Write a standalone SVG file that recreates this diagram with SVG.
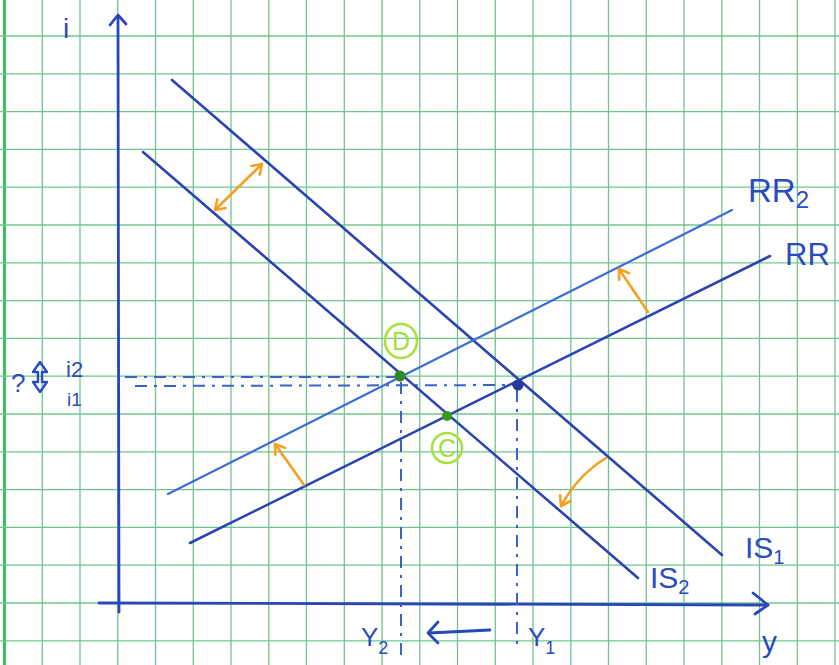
<svg xmlns="http://www.w3.org/2000/svg" width="839" height="665" viewBox="0 0 839 665">
<defs>
<style>
.grid line{stroke:#72c48e;stroke-width:1.3}
.ax{stroke:#2848b8;stroke-width:2.8;fill:none;stroke-linecap:round;stroke-linejoin:round}
.dk{stroke:#2a44b0;stroke-width:2.6;fill:none;stroke-linecap:round}
.lt{stroke:#3c6fd2;stroke-width:2.3;fill:none;stroke-linecap:round}
.dash{stroke:#3a62c8;stroke-width:2;fill:none;stroke-dasharray:12 7 3 7}
.or{stroke:#f5a020;stroke-width:2.6;fill:none;stroke-linecap:round}
.lbl{font-family:"Liberation Sans",Arial,sans-serif;fill:#2a4cc0}
.gl{font-family:"Liberation Sans",Arial,sans-serif;fill:#9ee03a}
</style>
<marker id="oh" viewBox="-12 -8 14 16" markerWidth="14" markerHeight="16" markerUnits="userSpaceOnUse" orient="auto-start-reverse" refX="0" refY="0">
<path d="M-9,-6 L0,0 L-9,6" fill="none" stroke="#f5a020" stroke-width="2.6" stroke-linecap="round" stroke-linejoin="round"/>
</marker>
</defs>
<rect width="839" height="665" fill="#ffffff"/>
<g class="grid" id="grid">
<line x1="4.5" y1="0" x2="4.5" y2="665" style="stroke:#3cc060;stroke-width:3"/>
<line x1="42.3" y1="0" x2="42.3" y2="665"/>
<line x1="80" y1="0" x2="80" y2="665"/>
<line x1="117.8" y1="0" x2="117.8" y2="665"/>
<line x1="155.5" y1="0" x2="155.5" y2="665"/>
<line x1="193.3" y1="0" x2="193.3" y2="665"/>
<line x1="231" y1="0" x2="231" y2="665"/>
<line x1="268.8" y1="0" x2="268.8" y2="665"/>
<line x1="306.5" y1="0" x2="306.5" y2="665"/>
<line x1="344.3" y1="0" x2="344.3" y2="665"/>
<line x1="382" y1="0" x2="382" y2="665"/>
<line x1="419.8" y1="0" x2="419.8" y2="665"/>
<line x1="457.5" y1="0" x2="457.5" y2="665"/>
<line x1="495.3" y1="0" x2="495.3" y2="665"/>
<line x1="533" y1="0" x2="533" y2="665"/>
<line x1="570.8" y1="0" x2="570.8" y2="665"/>
<line x1="608.5" y1="0" x2="608.5" y2="665"/>
<line x1="646.3" y1="0" x2="646.3" y2="665"/>
<line x1="684" y1="0" x2="684" y2="665"/>
<line x1="721.8" y1="0" x2="721.8" y2="665"/>
<line x1="759.5" y1="0" x2="759.5" y2="665"/>
<line x1="797.3" y1="0" x2="797.3" y2="665"/>
<line x1="835" y1="0" x2="835" y2="665"/>
<line x1="0" y1="36" x2="839" y2="36"/>
<line x1="0" y1="73.8" x2="839" y2="73.8"/>
<line x1="0" y1="111.6" x2="839" y2="111.6"/>
<line x1="0" y1="149.4" x2="839" y2="149.4"/>
<line x1="0" y1="187.2" x2="839" y2="187.2"/>
<line x1="0" y1="225" x2="839" y2="225"/>
<line x1="0" y1="262.8" x2="839" y2="262.8"/>
<line x1="0" y1="300.6" x2="839" y2="300.6"/>
<line x1="0" y1="338.4" x2="839" y2="338.4"/>
<line x1="0" y1="376.2" x2="839" y2="376.2"/>
<line x1="0" y1="414" x2="839" y2="414"/>
<line x1="0" y1="451.8" x2="839" y2="451.8"/>
<line x1="0" y1="489.6" x2="839" y2="489.6"/>
<line x1="0" y1="527.4" x2="839" y2="527.4"/>
<line x1="0" y1="565.2" x2="839" y2="565.2"/>
<line x1="0" y1="603" x2="839" y2="603"/>
<line x1="0" y1="640.8" x2="839" y2="640.8"/>
</g>
<g id="axes">
<path class="ax" d="M119,612 L118,16"/>
<path class="ax" d="M110,25 L118,15 L126,24"/>
<path class="ax" d="M99,603 L768,605"/>
<path class="ax" d="M753,593 L768,605 L755,614"/>
</g>
<g id="connectors">
<path class="dash" d="M125,377 L398,377"/>
<path class="dash" d="M135,386 L514,385"/>
<path class="dash" d="M401,382 L401,662"/>
<path class="dash" d="M517,390 L517,645"/>
<path class="dk" d="M172,80 L722,555"/>
<path class="dk" d="M143,152 L638,578"/>
<path class="lt" d="M168,494 L732,210"/>
<path class="dk" d="M190,543 L770,256"/>
<path class="or" d="M262,164 L215,210" marker-start="url(#oh)" marker-end="url(#oh)"/>
<path class="or" d="M606,458 Q578,475 561,506" marker-end="url(#oh)"/>
<path class="or" d="M304,485 L275,444" marker-end="url(#oh)"/>
<path class="or" d="M648,312 L619,269" marker-end="url(#oh)"/>
<path class="ax" d="M490,630 L429,633"/>
<path class="ax" d="M438,622 L428,633 L438,643"/>
</g>
<g id="points">
<circle cx="400" cy="376" r="5.5" fill="#2e8a28"/>
<circle cx="447" cy="416" r="5" fill="#3a9a20"/>
<circle cx="518" cy="385" r="5.5" fill="#2838a0"/>
</g>
<g id="D">
<ellipse cx="401" cy="341" rx="16" ry="17" fill="none" stroke="#a6e23e" stroke-width="2.6"/>
<text class="gl" x="401" y="350" font-size="25" text-anchor="middle">D</text>
</g>
<g id="C">
<circle cx="447" cy="448" r="15" fill="none" stroke="#a6e23e" stroke-width="2.6"/>
<text class="gl" x="447" y="457" font-size="25" text-anchor="middle">C</text>
</g>
<g id="labels">
<text class="lbl" x="63" y="38" font-size="28">i</text>
<text class="lbl" x="762" y="652" font-size="30">y</text>
<text class="lbl" x="748" y="202" font-size="33">RR<tspan font-size="24" dy="6">2</tspan></text>
<text class="lbl" x="785" y="265" font-size="31">RR</text>
<text class="lbl" x="745" y="558" font-size="30">IS<tspan font-size="20" dy="6">1</tspan></text>
<text class="lbl" x="650" y="588" font-size="30">IS<tspan font-size="20" dy="6">2</tspan></text>
<text class="lbl" x="361" y="646" font-size="26">Y<tspan font-size="18" dy="8">2</tspan></text>
<text class="lbl" x="528" y="646" font-size="26">Y<tspan font-size="18" dy="8">1</tspan></text>
<text class="lbl" x="66" y="377" font-size="22">i2</text>
<text class="lbl" x="67" y="406" font-size="19">i1</text>
<text class="lbl" x="11" y="392" font-size="26">?</text>
<path d="M40,362 L33,372 L38,372 L38,382 L33,382 L40,392 L47,382 L42,382 L42,372 L47,372 Z" fill="none" stroke="#2a4cc0" stroke-width="2.4" stroke-linejoin="round"/>
</g>
</svg>
